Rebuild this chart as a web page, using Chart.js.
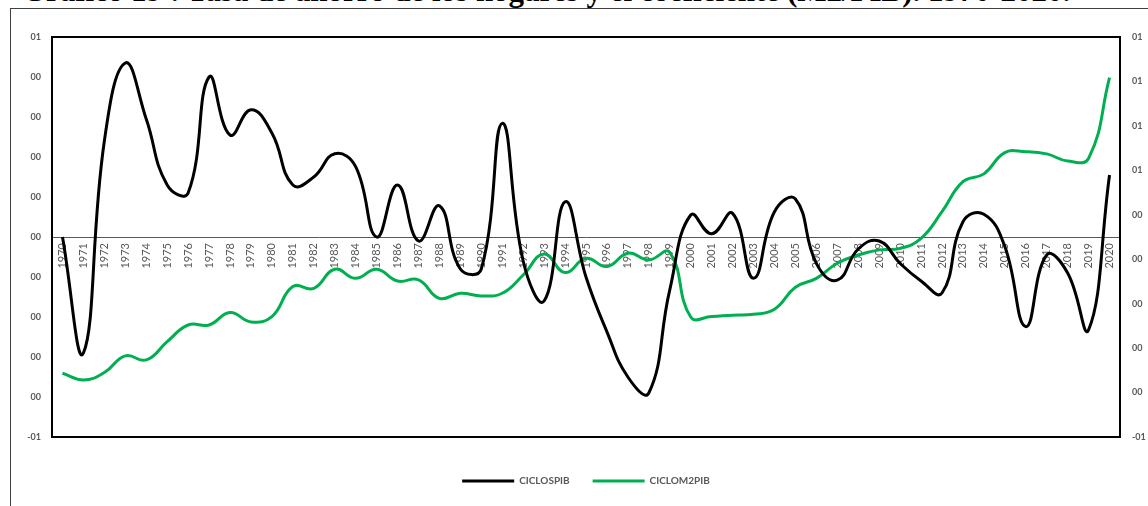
<!DOCTYPE html>
<html>
<head>
<meta charset="utf-8">
<script src="https://cdn.jsdelivr.net/npm/chart.js@4/dist/chart.umd.min.js"></script>
<style>
  html, body { margin: 0; padding: 0; background: #fff; overflow: hidden; }
  #wrap { position: relative; width: 1148px; height: 506px; }
  #frame { position: absolute; left: 10px; top: 8px; width: 1160px; height: 520px; border: 1px solid #404040; box-sizing: border-box; }
  #titulo { position: absolute; left: 0; top: -25px; width: 1092px; text-align: center; font: bold 31px "Liberation Serif", "Times New Roman", serif; line-height: 31px; white-space: nowrap; color: #000; }
  canvas { position: absolute; left: 0; top: 0; }
</style>
</head>
<body>
<div id="wrap">
  <div id="titulo">Gráfico 19 : Tasa de ahorro de los hogares y el coeficiente (M2/PIB). 1970-2020.</div>
  <div id="frame"></div>
  <canvas id="grafico" width="1148" height="506"></canvas>
</div>
<script>
// años 1970-2020
const years = [];
for (let a = 1970; a <= 2020; a++) years.push(String(a));

// CICLOSPIB (eje izquierdo)
const ciclosPib = [
  0.00, -0.29, 0.24, 0.435, 0.295, 0.13, 0.11, 0.40, 0.255, 0.318,
  0.26, 0.13, 0.15, 0.208, 0.176, 0.00, 0.13, -0.01, 0.078, -0.08,
  -0.08, 0.284, -0.06, -0.16, 0.088, -0.10, -0.237, -0.35, -0.39, -0.132,
  0.055, 0.008, 0.059, -0.103, 0.063, 0.095, -0.066, -0.108, -0.03, -0.01,
  -0.066, -0.11, -0.14, 0.038, 0.057, -0.024, -0.224, -0.045, -0.09, -0.232,
  0.155
];

// CICLOM2PIB (eje derecho)
const ciclosM2Pib = [
  -0.313, -0.343, -0.31, -0.235, -0.253, -0.171, -0.096, -0.096, -0.04, -0.082,
  -0.058, 0.077, 0.069, 0.155, 0.114, 0.155, 0.102, 0.107, 0.024, 0.047,
  0.035, 0.047, 0.129, 0.224, 0.14, 0.204, 0.167, 0.227, 0.197, 0.231,
  -0.06, -0.058, -0.052, -0.048, -0.025, 0.074, 0.114, 0.182, 0.219, 0.242,
  0.249, 0.294, 0.414, 0.549, 0.584, 0.68, 0.684, 0.674, 0.642, 0.654,
  1.017
];

const gris = "#595959";

// formato tipo Excel "00"
function fmt(v) {
  const r = Math.round(Math.abs(v) + 1e-9);
  return (v < 0 && r !== 0 ? "-" : "") + String(r).padStart(2, "0");
}

// borde negro del área de trazado
const marco = {
  id: "marco",
  afterDraw(chart) {
    const a = chart.chartArea;
    const ctx = chart.ctx;
    ctx.save();
    ctx.strokeStyle = "#000";
    ctx.lineWidth = 2;
    ctx.strokeRect(a.left, a.top, a.right - a.left, a.bottom - a.top);
    ctx.restore();
  }
};

new Chart(document.getElementById("grafico"), {
  type: "line",
  data: {
    labels: years,
    datasets: [
      {
        label: "CICLOSPIB",
        data: ciclosPib,
        yAxisID: "y",
        borderColor: "#000000",
        backgroundColor: "#000000",
        borderWidth: 3,
        pointRadius: 0,
        tension: 0.45
      },
      {
        label: "CICLOM2PIB",
        data: ciclosM2Pib,
        yAxisID: "y1",
        borderColor: "#00B050",
        backgroundColor: "#00B050",
        borderWidth: 3,
        pointRadius: 0,
        tension: 0.45
      }
    ]
  },
  options: {
    responsive: false,
    animation: false,
    layout: { padding: { top: 37, bottom: 10, left: 0, right: 0 } },
    plugins: {
      tooltip: { enabled: false },
      legend: {
        position: "bottom",
        fullSize: false,
        title: { display: true, text: "", padding: 0, font: { size: 16, lineHeight: 1 } },
        labels: {
          usePointStyle: true,
          pointStyle: "line",
          pointStyleWidth: 52,
          padding: 23,
          color: gris,
          font: { family: "Lato, 'Open Sans', sans-serif", size: 10, weight: "bold" }
        }
      }
    },
    scales: {
      x: {
        type: "category",
        position: { y: 0 },
        offset: true,
        grid: { display: false, drawTicks: false },
        border: { display: true, color: gris, width: 1 },
        afterFit(scale) { scale.paddingLeft = 0; scale.paddingRight = 0; },
        ticks: {
          autoSkip: false,
          maxRotation: 90,
          minRotation: 90,
          padding: 6,
          color: gris,
          font: { family: "Lato, 'Open Sans', sans-serif", size: 11 }
        }
      },
      y: {
        position: "left",
        min: -0.5,
        max: 0.5,
        grid: { display: false, drawTicks: false },
        border: { display: false },
        afterFit(scale) { scale.width = 52; },
        ticks: {
          stepSize: 0.1,
          padding: 11,
          color: gris,
          font: { family: "Lato, 'Open Sans', sans-serif", size: 9, weight: "bold" },
          callback: (v) => fmt(v)
        }
      },
      y1: {
        position: "right",
        min: -0.6,
        max: 1.2,
        grid: { display: false, drawTicks: false },
        border: { display: false },
        afterFit(scale) { scale.width = 28; },
        ticks: {
          stepSize: 0.2,
          padding: 12,
          color: gris,
          font: { family: "Lato, 'Open Sans', sans-serif", size: 9, weight: "bold" },
          callback: (v) => fmt(v)
        }
      }
    }
  },
  plugins: [marco]
});
</script>
</body>
</html>
